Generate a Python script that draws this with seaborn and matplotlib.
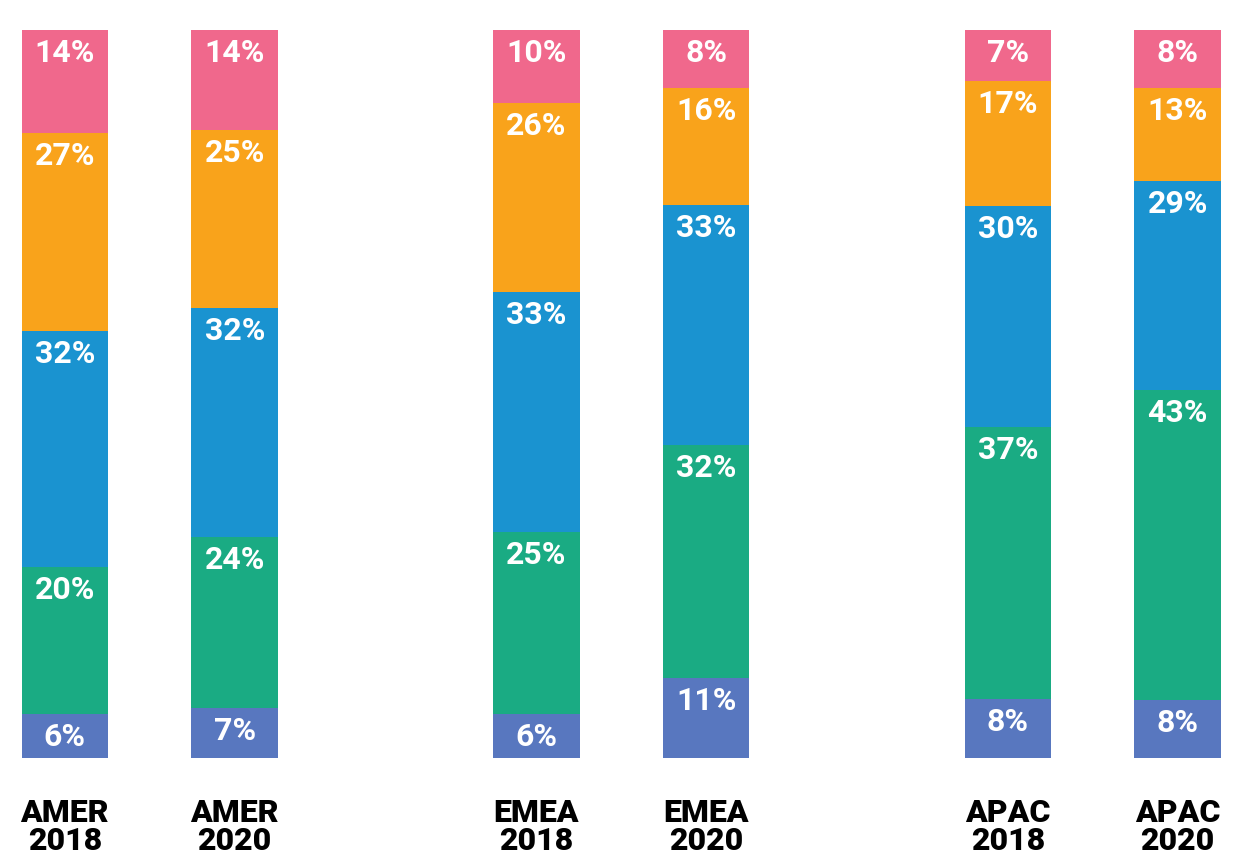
import numpy as np
import pandas as pd
import matplotlib
matplotlib.use("Agg")
import matplotlib.pyplot as plt
import seaborn as sns

# Data (percent shares per bar, bottom to top)
bar_labels = ["AMER\n2018", "AMER\n2020", "EMEA\n2018", "EMEA\n2020", "APAC\n2018", "APAC\n2020"]
bar_pos = [0, 1, 2.774, 3.774, 5.548, 6.548]
purple_vals = [6, 7, 6, 11, 8, 8]
green_vals = [20, 24, 25, 32, 37, 43]
blue_vals = [32, 32, 33, 33, 30, 29]
orange_vals = [27, 25, 26, 16, 17, 13]
pink_vals = [14, 14, 10, 8, 7, 8]

layers = [purple_vals, green_vals, blue_vals, orange_vals, pink_vals]
colors = ["#5877BF", "#1AAB83", "#1A93D0", "#F9A31B", "#F0688C"]

sns.set_style("white")
plt.rcParams['font.family'] = ['Roboto', 'DejaVu Sans']

vals = np.array(layers, dtype=float)
share = vals / vals.sum(axis=0) * 100
tops = np.cumsum(share, axis=0)

fig = plt.figure(figsize=(12.47, 8.56), dpi=100)
W, H = 1247, 856
left_px, right_px, top_px, bot_px = 21.5, 1221, 30, 758
ax = fig.add_axes([left_px / W, (H - bot_px) / H, (right_px - left_px) / W, (bot_px - top_px) / H])

bar_w = 0.509
# draw from the top layer down so lower segments overlay
for i in reversed(range(len(layers))):
    df = pd.DataFrame({'pos': bar_pos, 'top': tops[i]})
    sns.barplot(data=df, x='pos', y='top', color=colors[i], native_scale=True,
                orient='x', width=bar_w, errorbar=None, saturation=1,
                linewidth=0, ax=ax)

# value labels near the top of each segment
for i, layer in enumerate(layers):
    for j, v in enumerate(layer):
        ax.annotate(f"{v}%", xy=(bar_pos[j], tops[i][j]), xytext=(0, -23),
                    textcoords='offset points', ha='center', va='baseline',
                    color='white', fontsize=23, fontweight='bold')

ax.set_xlim(bar_pos[0] - bar_w / 2, bar_pos[-1] + bar_w / 2)
ax.set_ylim(0, 100)
ax.set_xticks(bar_pos)
ax.set_xticklabels(bar_labels, fontsize=23, fontweight='heavy', color='black',
                   linespacing=0.9)
ax.tick_params(axis='x', length=0, pad=29)
ax.set_yticks([])
ax.set_xlabel('')
ax.set_ylabel('')
sns.despine(ax=ax, left=True, bottom=True)

fig.savefig("out.png", dpi=100)
